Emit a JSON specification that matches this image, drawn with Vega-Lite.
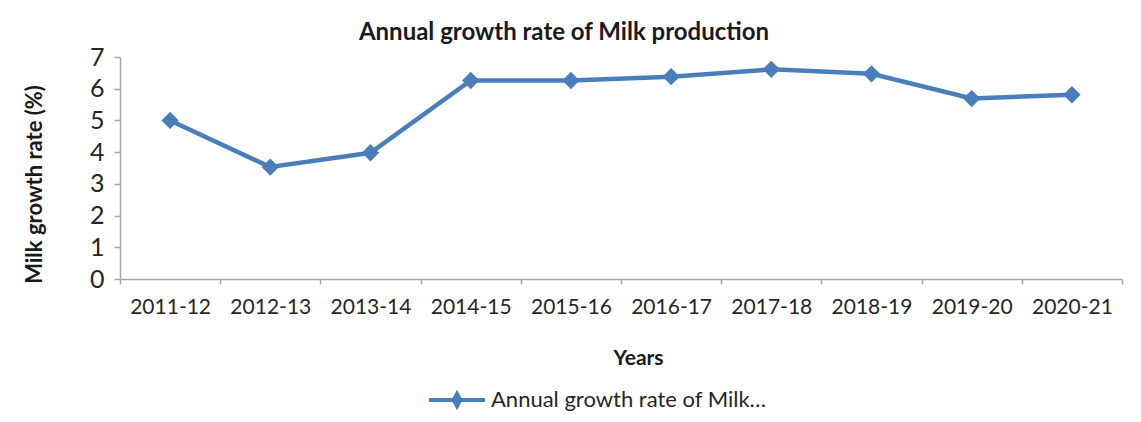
{
  "$schema": "https://vega.github.io/schema/vega-lite/v6.json",
  "autosize": {"type": "none"},
  "width": 1002,
  "height": 222,
  "padding": {"left": 120, "top": 57, "right": 19, "bottom": 143},
  "background": "white",
  "title": {
    "text": "Annual growth rate of Milk production",
    "font": "Lato",
    "fontSize": 24,
    "fontWeight": "bold",
    "color": "#1a1a1a",
    "anchor": "middle",
    "dx": -57,
    "offset": 0
  },
  "data": {
    "values": [
      {"year": "2011-12", "rate": 5.0, "series": "Annual growth rate of Milk production"},
      {"year": "2012-13", "rate": 3.53, "series": "Annual growth rate of Milk production"},
      {"year": "2013-14", "rate": 3.98, "series": "Annual growth rate of Milk production"},
      {"year": "2014-15", "rate": 6.26, "series": "Annual growth rate of Milk production"},
      {"year": "2015-16", "rate": 6.26, "series": "Annual growth rate of Milk production"},
      {"year": "2016-17", "rate": 6.38, "series": "Annual growth rate of Milk production"},
      {"year": "2017-18", "rate": 6.61, "series": "Annual growth rate of Milk production"},
      {"year": "2018-19", "rate": 6.47, "series": "Annual growth rate of Milk production"},
      {"year": "2019-20", "rate": 5.69, "series": "Annual growth rate of Milk production"},
      {"year": "2020-21", "rate": 5.81, "series": "Annual growth rate of Milk production"}
    ]
  },
  "mark": {
    "type": "line",
    "strokeWidth": 4.5,
    "point": {"shape": "diamond", "size": 300, "filled": true, "opacity": 1}
  },
  "encoding": {
    "x": {
      "field": "year",
      "type": "ordinal",
      "sort": null,
      "scale": {"type": "band", "paddingInner": 0, "paddingOuter": 0},
      "axis": {
        "title": "Years",
        "titleFont": "Lato",
        "titleFontSize": 21,
        "titleFontWeight": "bold",
        "titleColor": "#1a1a1a",
        "titleX": 518,
        "titleY": 79,
        "titleBaseline": "middle",
        "labelAngle": 0,
        "labelFont": "Lato",
        "labelFontSize": 21,
        "labelColor": "#262626",
        "labelPadding": 12,
        "tickBand": "extent",
        "tickSize": 5,
        "tickColor": "#a6a6a6",
        "tickWidth": 1.5,
        "domainColor": "#a6a6a6",
        "domainWidth": 1.5,
        "grid": false
      }
    },
    "y": {
      "field": "rate",
      "type": "quantitative",
      "scale": {"domain": [0, 7], "nice": false},
      "axis": {
        "title": "Milk growth rate (%)",
        "titleFont": "Lato",
        "titleFontSize": 22,
        "titleFontWeight": "bold",
        "titleColor": "#1a1a1a",
        "titleX": -86,
        "titleY": 127,
        "titleAngle": 270,
        "titleAlign": "center",
        "titleBaseline": "middle",
        "values": [0, 1, 2, 3, 4, 5, 6, 7],
        "labelFont": "Lato",
        "labelFontSize": 25,
        "labelColor": "#262626",
        "labelPadding": 10,
        "tickSize": 6,
        "tickColor": "#a6a6a6",
        "tickWidth": 1.5,
        "domainColor": "#a6a6a6",
        "domainWidth": 1.5,
        "grid": false
      }
    },
    "color": {
      "field": "series",
      "type": "nominal",
      "scale": {"range": ["#4a7ebb"]},
      "legend": {
        "title": null,
        "orient": "none",
        "legendX": 307,
        "legendY": 313,
        "padding": 0,
        "symbolType": "M-1,0H1M0,-0.22L0.12,0L0,0.22L-0.12,0Z",
        "symbolSize": 3136,
        "symbolStrokeWidth": 4,
        "labelFont": "Lato",
        "labelFontSize": 22,
        "labelColor": "#262626",
        "labelOffset": 4,
        "labelLimit": 400,
        "labelExpr": "'Annual growth rate of Milk…'",
        "encode": {
          "symbols": {"update": {"fill": {"value": "#4a7ebb"}, "stroke": {"value": "#4a7ebb"}, "opacity": {"value": 1}}}
        }
      }
    }
  },
  "config": {"view": {"stroke": null}}
}
